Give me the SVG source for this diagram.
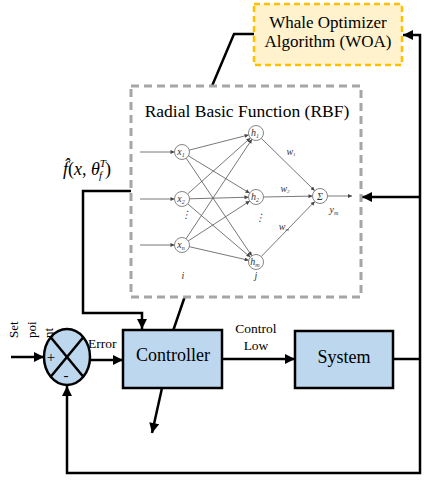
<svg xmlns="http://www.w3.org/2000/svg" width="435" height="480" viewBox="0 0 435 480">
<defs>
<marker id="ah" viewBox="0 0 10 10" refX="10" refY="5" markerWidth="11" markerHeight="10" markerUnits="userSpaceOnUse" orient="auto"><path d="M0,0 L10,5 L0,10 Z" fill="#000"/></marker>
<marker id="sa" viewBox="0 0 10 10" refX="10" refY="5" markerWidth="5" markerHeight="4" markerUnits="userSpaceOnUse" orient="auto"><path d="M0,0 L10,5 L0,10 Z" fill="#444"/></marker>
<style>
.blk{fill:none;stroke:#000;stroke-width:2.5}
.box{fill:#BDD7EE;stroke:#000;stroke-width:2.5}
.net{fill:none;stroke:#555;stroke-width:0.8}
.nd{fill:#fff;stroke:#666;stroke-width:0.8}
.t{font-family:"Liberation Serif","DejaVu Serif","Times New Roman",serif;fill:#000}
.nl{font-family:"Liberation Serif","DejaVu Serif","Times New Roman",serif;font-style:italic;font-size:10px;fill:#333;text-anchor:middle}
</style>
</defs>
<rect width="435" height="480" fill="#fff"/>

<g id="connectors">
<polyline class="blk" points="212,86 234,34 254,34"/>
<polyline class="blk" points="420,359 420,35 403,35" marker-end="url(#ah)"/>
<line class="blk" x1="420" y1="197" x2="362" y2="197" marker-end="url(#ah)"/>
<polyline class="blk" points="131,191 83,191 83,313 142,313 142,329" marker-end="url(#ah)"/>
<line class="blk" x1="173" y1="331" x2="185" y2="296"/>
<line class="blk" x1="162" y1="388" x2="152" y2="433" marker-end="url(#ah)"/>
<line class="blk" x1="11" y1="357" x2="44" y2="357" marker-end="url(#ah)"/>
<line class="blk" x1="90" y1="360" x2="123" y2="360" marker-end="url(#ah)"/>
<line class="blk" x1="222" y1="359" x2="295" y2="359" marker-end="url(#ah)"/>
<line class="blk" x1="393" y1="359" x2="420" y2="359"/>
<polyline class="blk" points="420,359 420,473 67,473 67,386" marker-end="url(#ah)"/>
</g>

<g id="woa">
<rect x="254" y="4" width="148" height="61" fill="#FFF2CC" stroke="#FFC000" stroke-width="2.5" stroke-dasharray="6,4"/>
<text class="t" x="328" y="28" font-size="17" text-anchor="middle">Whale Optimizer</text>
<text class="t" x="328" y="47" font-size="17" text-anchor="middle">Algorithm (WOA)</text>
</g>

<g id="rbf">
<rect x="131" y="86" width="230" height="211" fill="#fff" stroke="#A6A6A6" stroke-width="3" stroke-dasharray="8,5"/>
<text class="t" x="247" y="117" font-size="17.5" text-anchor="middle">Radial Basic Function (RBF)</text>
<g class="net" marker-end="url(#sa)">
<line x1="140" y1="152" x2="174.5" y2="152"/>
<line x1="140" y1="199" x2="174.5" y2="199"/>
<line x1="140" y1="245" x2="174.5" y2="245"/>
<line x1="189.3" y1="150.1" x2="248.7" y2="134.9"/>
<line x1="188.4" y1="155.9" x2="249.6" y2="193.1"/>
<line x1="186.2" y1="158.2" x2="251.8" y2="255.8"/>
<line x1="187.6" y1="194.0" x2="250.4" y2="138.0"/>
<line x1="189.5" y1="198.8" x2="248.5" y2="197.2"/>
<line x1="187.7" y1="203.9" x2="250.3" y2="257.1"/>
<line x1="186.1" y1="238.7" x2="251.9" y2="139.3"/>
<line x1="188.3" y1="240.9" x2="249.7" y2="201.1"/>
<line x1="189.3" y1="246.7" x2="248.7" y2="260.3"/>
<line x1="261.3" y1="138.3" x2="314.7" y2="190.7"/>
<line x1="263.5" y1="197" x2="312.5" y2="196.1"/>
<line x1="261.2" y1="256.6" x2="314.8" y2="201.4"/>
<line x1="327.5" y1="196" x2="352" y2="196"/>
</g>
<circle class="nd" cx="182" cy="152" r="7.5"/>
<circle class="nd" cx="182" cy="199" r="7.5"/>
<circle class="nd" cx="182" cy="245" r="7.5"/>
<circle class="nd" cx="256" cy="133" r="7.5"/>
<circle class="nd" cx="256" cy="197" r="7.5"/>
<circle class="nd" cx="256" cy="262" r="7.5"/>
<circle class="nd" cx="320" cy="196" r="7.5"/>
<text class="nl" x="181" y="155">x<tspan font-size="6" dy="2">1</tspan></text>
<text class="nl" x="181" y="202">x<tspan font-size="6" dy="2">2</tspan></text>
<text class="nl" x="181" y="248">x<tspan font-size="6" dy="2">n</tspan></text>
<text class="nl" x="255" y="136">h<tspan font-size="6" dy="2">1</tspan></text>
<text class="nl" x="255" y="200">h<tspan font-size="6" dy="2">2</tspan></text>
<text class="nl" x="255" y="265">h<tspan font-size="6" dy="2">m</tspan></text>
<text class="nl" x="320" y="200" font-style="normal">Σ</text>
<text class="nl" x="291" y="155" font-size="8">w<tspan font-size="5" dy="1">1</tspan></text>
<text class="nl" x="285" y="192" font-size="8">w<tspan font-size="5" dy="1">2</tspan></text>
<text class="nl" x="284" y="230" font-size="8">w<tspan font-size="5" dy="1">m</tspan></text>
<text class="nl" x="334" y="213">y<tspan font-size="6" dy="2">m</tspan></text>
<text class="nl" x="186" y="218" font-style="normal" font-size="9">⋮</text>
<text class="nl" x="260" y="221" font-style="normal" font-size="9">⋮</text>
<text class="nl" x="183" y="279">i</text>
<text class="nl" x="256" y="279">j</text>
</g>

<text class="t" x="63" y="175" font-size="18"><tspan font-style="italic">f̂</tspan>(<tspan font-style="italic">x</tspan>, <tspan font-style="italic">θ</tspan><tspan font-size="11" dy="-8" font-style="italic">T</tspan><tspan font-size="11" dx="-7" dy="12" font-style="italic">f</tspan><tspan dy="-4" dx="3">)</tspan></text>

<g id="sum">
<ellipse cx="67" cy="357" rx="23" ry="28" fill="#BDD7EE" stroke="#000" stroke-width="2.5"/>
<line x1="50.7" y1="337.2" x2="83.3" y2="376.8" stroke="#000" stroke-width="2.5"/>
<line x1="83.3" y1="337.2" x2="50.7" y2="376.8" stroke="#000" stroke-width="2.5"/>
<text class="t" x="51" y="362" font-size="15" text-anchor="middle">+</text>
<text class="t" x="66" y="380" font-size="15" text-anchor="middle">-</text>
</g>

<g id="setpoint" class="t" font-size="13">
<text transform="translate(18,338) rotate(-90)">Set</text>
<text transform="translate(36,338) rotate(-90)">poi</text>
<text transform="translate(53,338) rotate(-90)">nt</text>
</g>

<text class="t" x="88" y="348" font-size="13.5">Error</text>
<text class="t" x="256" y="333" font-size="13.5" text-anchor="middle">Control</text>
<text class="t" x="256" y="350" font-size="13.5" text-anchor="middle">Low</text>

<g id="controller">
<rect class="box" x="123" y="330" width="99" height="58"/>
<text class="t" x="173" y="361" font-size="18" text-anchor="middle">Controller</text>
</g>

<g id="system">
<rect class="box" x="295" y="331" width="98" height="57"/>
<text class="t" x="344" y="363" font-size="18" text-anchor="middle">System</text>
</g>
</svg>
